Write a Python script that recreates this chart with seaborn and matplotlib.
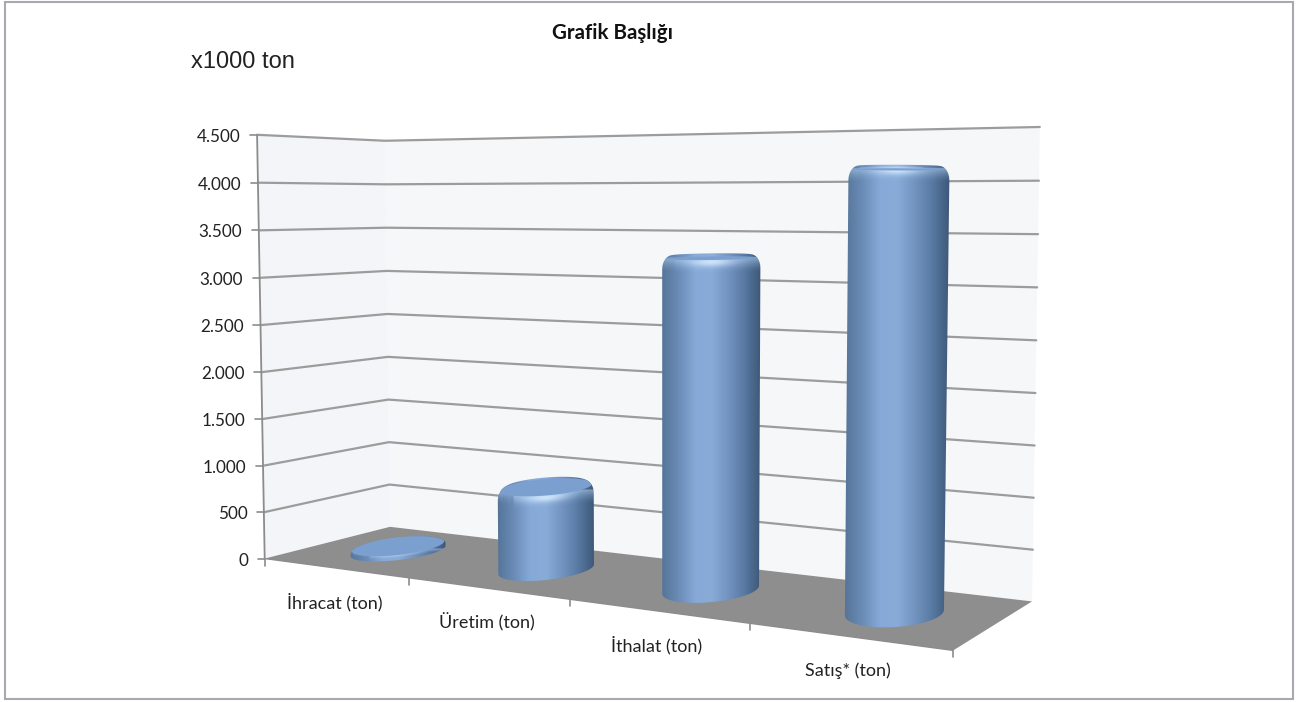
import numpy as np
import pandas as pd
import matplotlib.pyplot as plt
from matplotlib.patches import Polygon, Rectangle
import seaborn as sns

sns.set_theme(style="white")
plt.rcParams['font.family'] = ['Lato', 'DejaVu Sans']

categories = ["İhracat (ton)", "Üretim (ton)", "İthalat (ton)", "Satış* (ton)"]
values = [60, 890, 3290, 4130]
y_ticks = [0, 500, 1000, 1500, 2000, 2500, 3000, 3500, 4000, 4500]
y_labels = ["0", "500", "1.000", "1.500", "2.000", "2.500", "3.000", "3.500", "4.000", "4.500"]
y_max = 4500

# where the gridlines sit in the picture, used to fit the 3D view
left_edge_y = [558, 512, 465, 418, 371, 324, 277, 230, 183, 136]
corner_y = [527, 485, 443, 400, 357, 314, 271, 228, 184, 141]
right_edge_y = [600, 548, 497, 446, 393, 340, 287, 235, 181, 127]
front_ticks_x = [409, 570, 750, 952]
front_ticks_y = [580, 600, 624, 652]


def fit_camera():
    world = []
    image = []
    for k, val in enumerate(y_ticks):
        t = val / y_max
        world.append((0, 0, t))
        image.append((265 - 8 * t, left_edge_y[k]))
        world.append((0, 1, t))
        image.append((390 - 5 * t, corner_y[k]))
        world.append((1, 1, t))
        image.append((1032 + 8 * t, right_edge_y[k]))
    for k, (px, py) in enumerate(zip(front_ticks_x, front_ticks_y)):
        world.append(((k + 1) / 4, 0, 0))
        image.append((px, py))
    A = []
    b = []
    for (u, v, t), (x, y) in zip(world, image):
        A.append([u, v, t, 1, 0, 0, 0, 0, -u * x, -v * x, -t * x])
        A.append([0, 0, 0, 0, u, v, t, 1, -u * y, -v * y, -t * y])
        b += [x, y]
    p = np.linalg.lstsq(np.array(A), np.array(b), rcond=None)[0]
    return np.append(p, 1).reshape(3, 4)


P = fit_camera()


def project(u, v, val):
    # category axis u, depth v, value axis val -> picture pixels
    u, v = np.atleast_1d(u).astype(float), np.atleast_1d(v).astype(float)
    t = np.full_like(u, val / y_max)
    q = P @ np.vstack([u, v, t, np.ones_like(u)])
    return q[0] / q[2], q[1] / q[2]


def hull(pts):
    pts = sorted(set(map(tuple, np.round(pts, 3))))
    def half(seq):
        out = []
        for p in seq:
            while len(out) > 1 and (out[-1][0]-out[-2][0])*(p[1]-out[-2][1]) - (out[-1][1]-out[-2][1])*(p[0]-out[-2][0]) <= 0:
                out.pop()
            out.append(p)
        return out[:-1]
    return np.array(half(pts) + half(pts[::-1]))


fig = plt.figure(figsize=(12.97, 7.02), dpi=100)
ax = fig.add_axes([0, 0, 1, 1])

# walls and floor
xb, yb = project([0, 1], [1, 1], 0)
xt, yt = project([0, 1], [1, 1], y_max)
ax.add_patch(Polygon([(xb[0], yb[0]), (xt[0], yt[0]), (xt[1], yt[1]), (xb[1], yb[1])], fc="#f6f7f9", ec="none", zorder=1))
xl, yl = project([0, 0], [0, 1], 0)
xm, ym = project([0, 0], [0, 1], y_max)
ax.add_patch(Polygon([(xl[0], yl[0]), (xm[0], ym[0]), (xm[1], ym[1]), (xl[1], yl[1])], fc="#f4f5f8", ec="none", zorder=1))
fx_, fy_ = project([0, 0, 1, 1], [0, 1, 1, 0], 0)
ax.add_patch(Polygon(np.column_stack([fx_, fy_]), fc="#8e8e8e", ec="none", zorder=2))

# gridlines along left and back wall
rows = []
for val in y_ticks[1:]:
    gx, gy = project([0, 0, 1], [0, 1, 1], val)
    for px, py in zip(gx, gy):
        rows.append({"px": px, "py": py, "val": val})
grid_df = pd.DataFrame(rows)
sns.lineplot(data=grid_df, x="px", y="py", units="val", estimator=None, sort=False,
             color="#9c9c9c", lw=1.6, ax=ax, legend=False, zorder=3)

# value axis with ticks and labels
x0, y0 = project(0, 0, 0)
x1, y1 = project(0, 0, y_max)
ax.plot([x0[0], x1[0]], [y0[0], y1[0]], color="#8c8c8c", lw=1.3, zorder=3)
for val, lab in zip(y_ticks, y_labels):
    tx, ty = project(0, 0, val)
    ax.plot([tx[0] - 7, tx[0]], [ty[0], ty[0]], color="#8c8c8c", lw=1.2, zorder=3)
    ax.text(tx[0] - 16.5, ty[0] + 2, lab, ha="right", va="center", fontsize=12.3, color="#222222")

# category axis
n = len(categories)
ex, ey = project(np.linspace(0, 1, n + 1), np.zeros(n + 1), 0)
ax.plot(ex, ey, color="#8c8c8c", lw=1.0, zorder=3)
for px, py in zip(ex, ey):
    ax.plot([px, px], [py, py + 7], color="#8c8c8c", lw=1.2, zorder=3)
for i, lab in enumerate(categories):
    lx, ly = project((i + 0.5) / n, 0, 0)
    ax.text(lx[0] - 0.5, ly[0] + 34, lab, ha="center", va="center", fontsize=13, color="#222222")

# cylinders
body_cmap = sns.blend_palette(["#567599", "#6a8cb6", "#86a9d7", "#88abd8", "#7394c0", "#587aa3", "#3e5878"], as_cmap=True)
ru, rv = 0.054, 0.30
theta = np.linspace(0, 2 * np.pi, 180, endpoint=False)
light = np.array([0.72, 0.84, 0.98])

for i, val in enumerate(values):
    uc = (i + 0.5) / n
    bevel = min(130, val * 0.55)
    rim = 0.2

    def ring(z, f=1.0):
        return np.column_stack(project(uc + ru * f * np.cos(theta), 0.5 + rv * f * np.sin(theta), z))

    pts = [ring(0)]
    for phi in np.linspace(0, np.pi / 2, 8):
        pts.append(ring(val - bevel * (1 - np.sin(phi)), 1 - rim * (1 - np.cos(phi))))
    outline = hull(np.vstack(pts))
    clip = Polygon(outline, transform=ax.transData, fc="none", ec="none")
    ax.add_patch(clip)

    left, right = outline[:, 0].min(), outline[:, 0].max()
    top, bottom = outline[:, 1].min(), outline[:, 1].max()
    xs = np.arange(np.floor(left), np.ceil(right) + 1, 0.5)
    ys = np.arange(np.floor(top), np.ceil(bottom) + 1, 0.5)
    XX, YY = np.meshgrid(xs, ys)
    fx = np.clip((XX - left) / (right - left), 0, 1)
    img = body_cmap(fx)[..., :3]

    # lighter band under the top edge, cap ellipse is cut by the rounded outline
    cap = ring(val - bevel * 0.25, 0.97)
    front = cap[np.sin(theta) <= 0]
    front = front[np.argsort(front[:, 0])]
    edge = np.interp(xs, front[:, 0], front[:, 1])
    band = 14 if val > 300 else 4
    s = (YY - edge[None, :]) / band
    a = np.where(s > 0, 0.55 * np.clip(1 - s, 0, 1) ** 1.5, 0)[..., None]
    img = img * (1 - a) + light * a
    cx = (left + right) / 2
    glow = np.exp(-((XX - cx) / 20) ** 2 - ((s - 0.2) / 0.3) ** 2)[..., None] * (0.8 if val > 300 else 0.2)
    img = img * (1 - glow) + np.array([0.85, 0.93, 1.0]) * glow

    im = ax.imshow(img, extent=(xs[0], xs[-1], ys[-1], ys[0]), origin="upper", aspect="auto",
                   interpolation="bilinear", zorder=4 + i)
    im.set_clip_path(clip)
    cap_patch = Polygon(cap, fc="#7b9fcf", ec="none", zorder=4.5 + i)
    ax.add_patch(cap_patch)
    cap_patch.set_clip_path(clip)

ax.add_patch(Rectangle((5, 2), 1288, 697, fc="none", ec="#a8a8b0", lw=1.5, zorder=20))
ax.text(613, 33, "Grafik Başlığı", ha="center", va="center", fontsize=14.8, fontweight="bold", color="#111111")
ax.text(191, 62, "x1000 ton", ha="left", va="center", fontsize=17, color="#222222", family="Liberation Sans")

ax.set_xlim(0, 1297)
ax.set_ylim(702, 0)
ax.axis("off")
fig.savefig("out.png", dpi=100, facecolor="white")
